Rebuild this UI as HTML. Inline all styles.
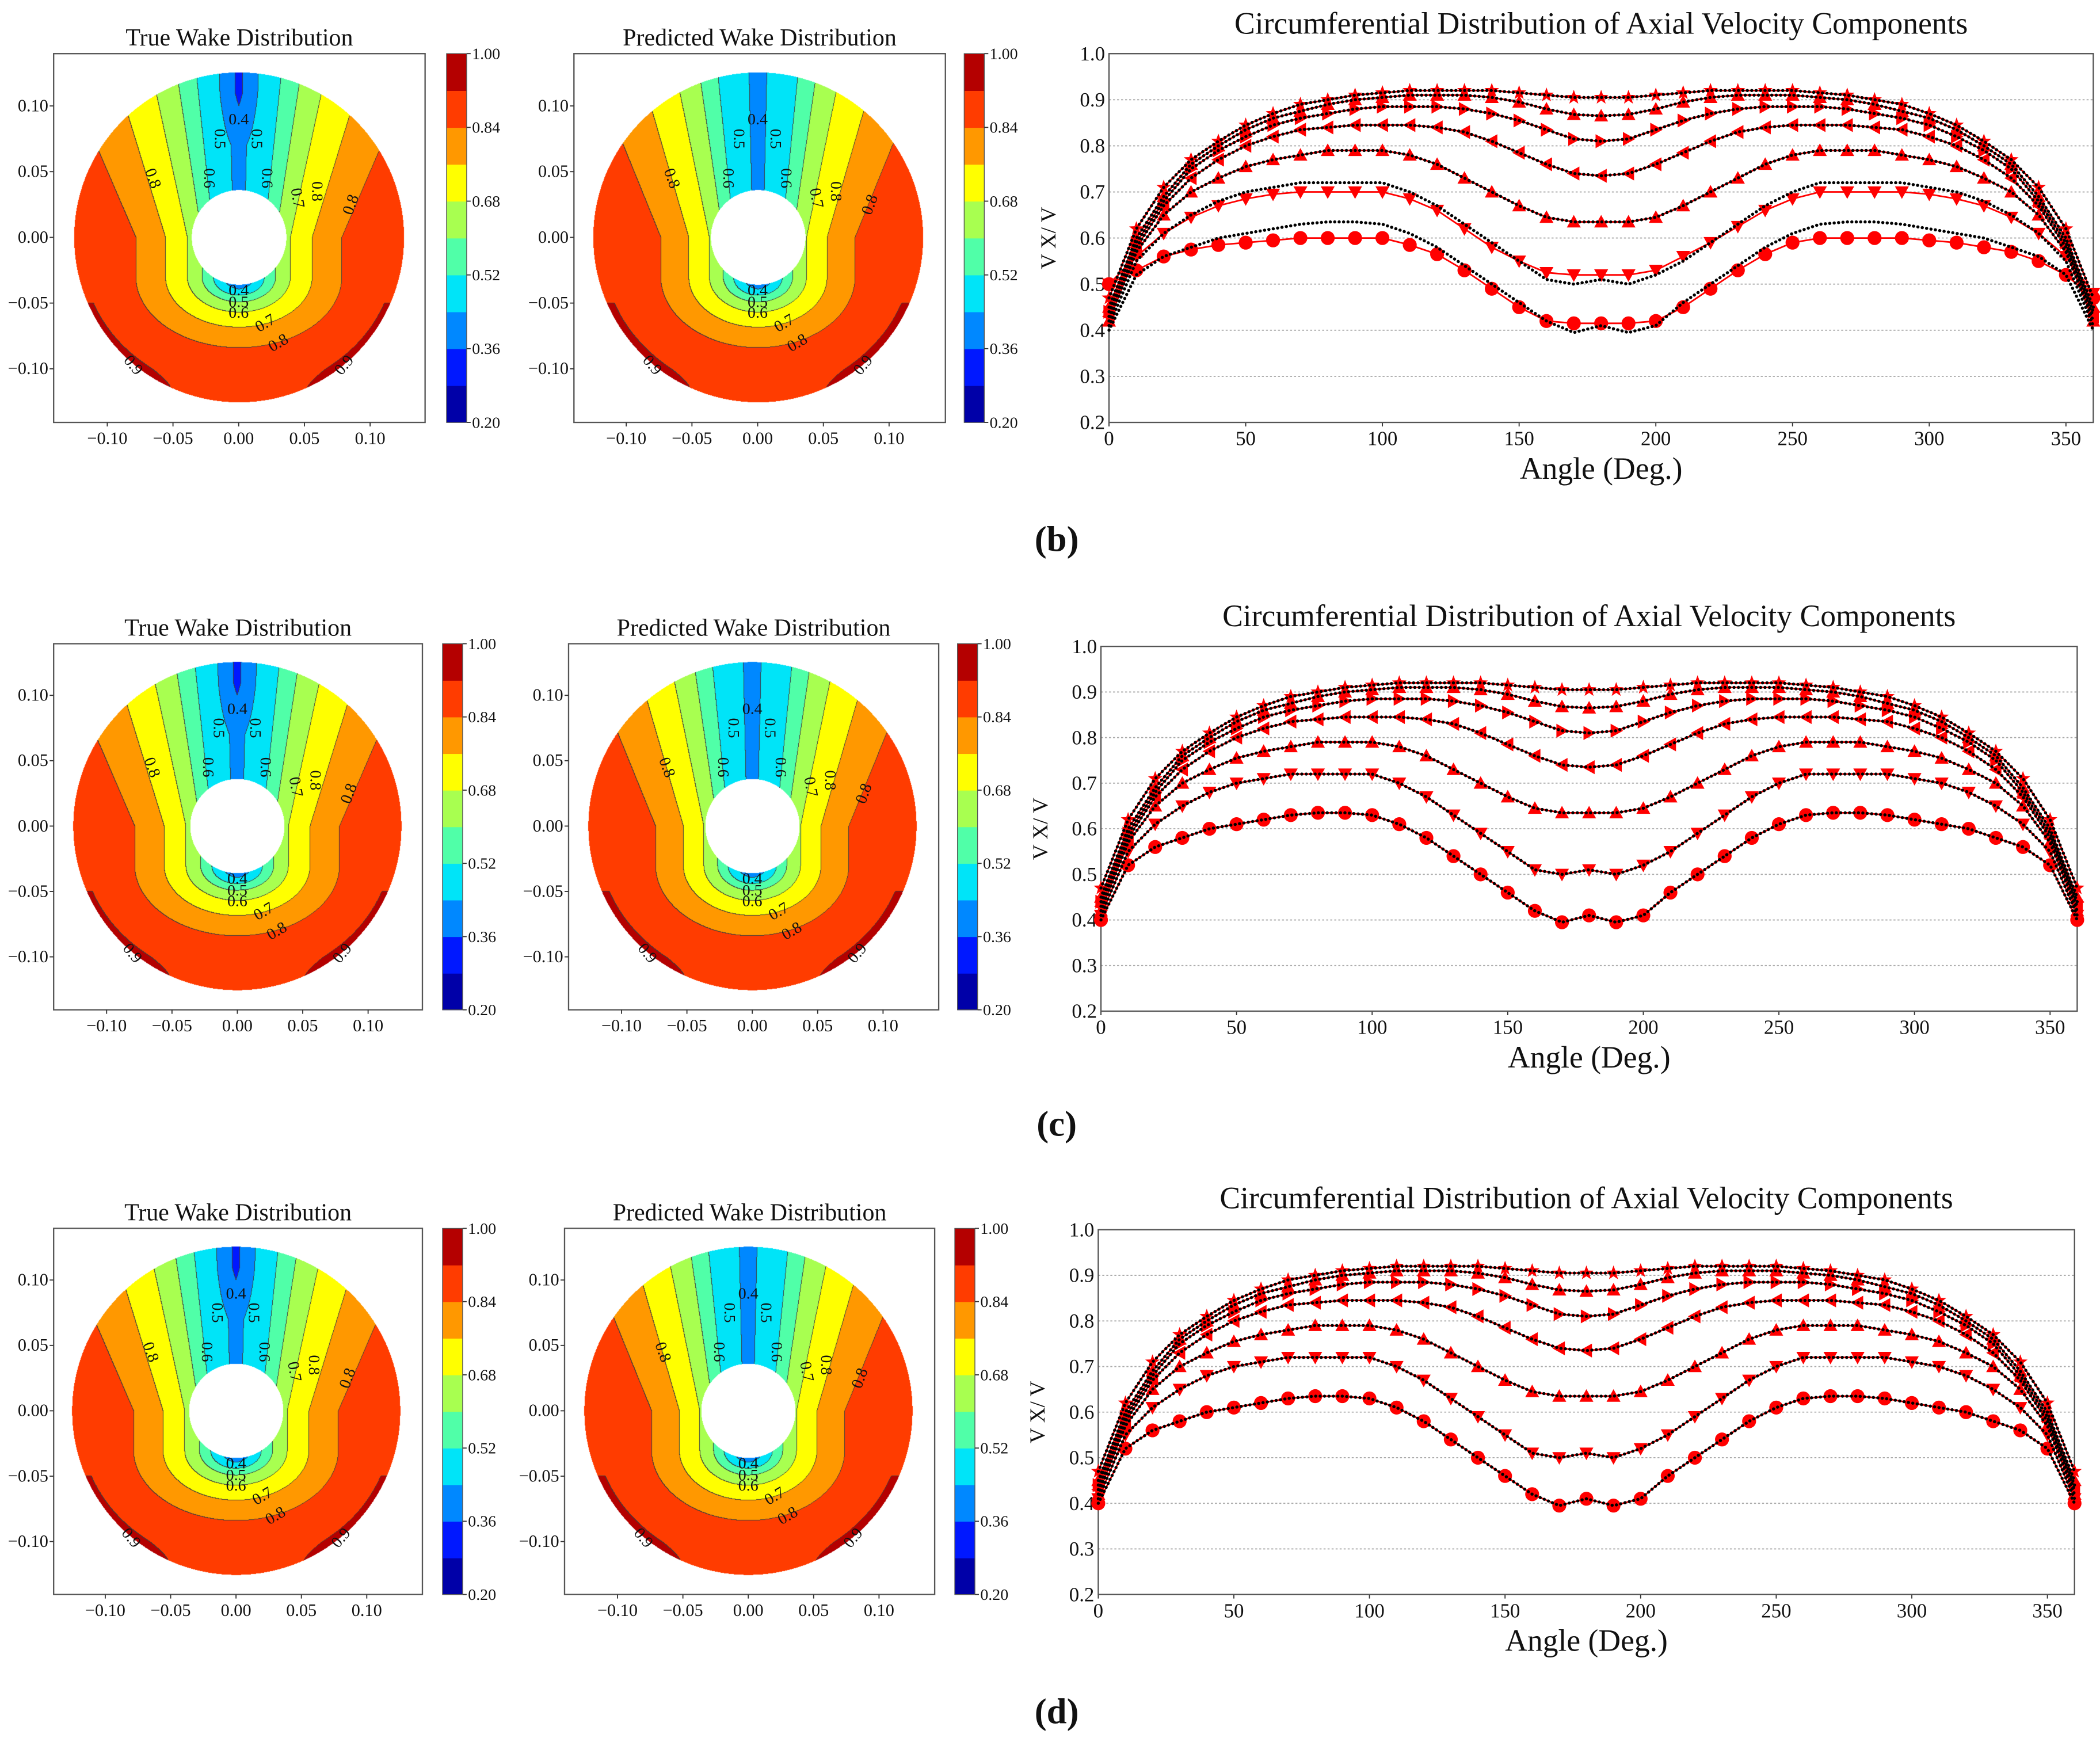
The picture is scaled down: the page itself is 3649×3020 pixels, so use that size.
<!DOCTYPE html>
<html><head><meta charset="utf-8">
<style>
html,body{margin:0;padding:0;background:#fff;}
#wrap{position:relative;width:3649px;height:3020px;overflow:hidden;background:#fff;}
canvas{position:absolute;}
svg{position:absolute;left:0;top:0;}
text{font-family:"Liberation Serif",serif;fill:#111;}
</style></head>
<body>
<div id="wrap">
<svg id="svg" width="3649" height="3020" viewBox="0 0 1566 1296" preserveAspectRatio="none"></svg>
</div>
<script>
// ---- chart data (angles in degrees, values V_x/V) ----
const angles = [0,10,20,30,40,50,60,70,80,90,100,110,120,130,140,150,160,170,180,190,200,210,220,230,240,250,260,270,280,290,300,310,320,330,340,350,360];
const xTicks = [0,50,100,150,200,250,300,350];
const yTicks = [0.2,0.3,0.4,0.5,0.6,0.7,0.8,0.9,1.0];
const cbTicks = ["0.20","0.36","0.52","0.68","0.84","1.00"];
const true1 = [0.40,0.52,0.56,0.58,0.60,0.61,0.62,0.63,0.635,0.635,0.63,0.61,0.58,0.54,0.50,0.46,0.42,0.395,0.41,0.395,0.41,0.46,0.50,0.54,0.58,0.61,0.63,0.635,0.635,0.63,0.62,0.61,0.60,0.58,0.56,0.52,0.40];
const true2 = [0.41,0.55,0.61,0.65,0.68,0.70,0.71,0.72,0.72,0.72,0.72,0.70,0.67,0.63,0.59,0.55,0.51,0.50,0.51,0.50,0.52,0.55,0.59,0.63,0.67,0.70,0.72,0.72,0.72,0.72,0.71,0.70,0.68,0.65,0.61,0.55,0.41];
const true3 = [0.42,0.57,0.65,0.70,0.73,0.755,0.77,0.78,0.79,0.79,0.79,0.78,0.76,0.73,0.70,0.67,0.645,0.635,0.635,0.635,0.645,0.67,0.70,0.73,0.76,0.78,0.79,0.79,0.79,0.78,0.77,0.755,0.73,0.70,0.65,0.57,0.42];
const true4 = [0.43,0.58,0.67,0.73,0.77,0.80,0.82,0.835,0.84,0.845,0.845,0.845,0.84,0.83,0.81,0.785,0.76,0.74,0.735,0.74,0.76,0.785,0.81,0.83,0.84,0.845,0.845,0.845,0.84,0.835,0.82,0.80,0.77,0.73,0.67,0.58,0.43];
const true5 = [0.44,0.59,0.68,0.75,0.79,0.82,0.845,0.86,0.87,0.88,0.885,0.885,0.885,0.88,0.87,0.855,0.835,0.815,0.81,0.815,0.835,0.855,0.87,0.88,0.885,0.885,0.885,0.88,0.87,0.86,0.845,0.82,0.79,0.75,0.68,0.59,0.44];
const true6 = [0.45,0.60,0.69,0.76,0.80,0.835,0.86,0.875,0.89,0.90,0.905,0.91,0.91,0.91,0.905,0.895,0.88,0.868,0.865,0.868,0.88,0.895,0.905,0.91,0.91,0.91,0.905,0.90,0.89,0.875,0.86,0.835,0.80,0.76,0.69,0.60,0.45];
const true7 = [0.47,0.62,0.71,0.77,0.81,0.845,0.87,0.89,0.90,0.91,0.915,0.92,0.92,0.92,0.92,0.915,0.91,0.905,0.905,0.905,0.91,0.915,0.92,0.92,0.92,0.92,0.915,0.91,0.90,0.89,0.87,0.845,0.81,0.77,0.71,0.62,0.47];
const predB1 = [0.50,0.53,0.56,0.575,0.585,0.59,0.595,0.60,0.60,0.60,0.60,0.585,0.565,0.53,0.49,0.45,0.42,0.415,0.415,0.415,0.42,0.45,0.49,0.53,0.565,0.59,0.60,0.60,0.60,0.60,0.595,0.59,0.58,0.57,0.55,0.52,0.47];
const predB2 = [0.50,0.56,0.61,0.645,0.67,0.685,0.695,0.70,0.70,0.70,0.70,0.685,0.66,0.62,0.58,0.55,0.525,0.52,0.52,0.52,0.53,0.56,0.59,0.625,0.66,0.685,0.70,0.70,0.70,0.70,0.695,0.685,0.67,0.645,0.61,0.56,0.48];
const markerTypes = ["circle","down","up","left","right","up","star"];

const S = 3649/1566;
const NS = "http://www.w3.org/2000/svg";
const svg = document.getElementById('svg');
function el(tag, attrs, parent){const e=document.createElementNS(NS,tag);for(const k in attrs)e.setAttribute(k,attrs[k]);(parent||svg).appendChild(e);return e;}
function txt(x,y,s,size,anchor,parent,extra){const t=el('text',Object.assign({x:x,y:y,'font-size':size,'text-anchor':anchor||'middle'},extra||{}),parent);t.textContent=s;return t;}

const levelColors = ["#0000a8","#0018ff","#0088ff","#00e4f8","#50ffa8","#a8ff50","#ffff00","#ff9800","#ff3c00","#b40000"];
function levelOf(v){let i=Math.floor((v-0.2)/0.08);return Math.max(0,Math.min(9,i));}
function hex(c){return [parseInt(c.substr(1,2),16),parseInt(c.substr(3,2),16),parseInt(c.substr(5,2),16)];}
const rgb = levelColors.map(hex);

const dTab=[0,0.017,0.028,0.042,0.065,0.085,0.12,0.3];
const vTab=[0.42,0.5,0.6,0.7,0.8,0.86,0.905,0.91];
function interp(d){for(let i=1;i<dTab.length;i++){if(d<=dTab[i]){const t=(d-dTab[i-1])/(dTab[i]-dTab[i-1]);return vTab[i-1]+t*(vTab[i]-vTab[i-1]);}}return 0.91;}
function field(x,y,pred){
  const c=-0.03;
  const w = pred?1.06:1.0;
  const ax=Math.abs(x)*w/(1+5.5*Math.max(0,y));
  const dy=Math.max(0,c-y)*1.45;
  const d=Math.sqrt(ax*ax+dy*dy);
  let v = interp(d);
  if(y>0.07 && !pred) v -= 0.08*Math.min(1,(y-0.07)/0.04)*Math.max(0,1-Math.abs(x)/0.02);
  const r=Math.hypot(x,y);
  if(y<0 && r<0.046) v -= 0.07*Math.max(0,(0.046-r)/0.01)*Math.max(0,1-Math.abs(x)/0.02);
  if(r>0.117 && y<-0.05 && Math.abs(x)>0.045) v += 0.04*Math.min(1,(r-0.117)/0.008)*Math.min(1,(Math.abs(x)-0.045)/0.02);
  return v;
}

function drawDisk(cx,cy,scale,pred,name){
  const R=0.1255, Ri=0.036;
  const rpx=Math.ceil(R*scale*S)+2;
  const size=rpx*2;
  const cv=document.createElement('canvas');
  cv.width=size;cv.height=size;
  cv.style.left=(cx*S-rpx)+'px';cv.style.top=(cy*S-rpx)+'px';
  
  
  document.getElementById('wrap').insertBefore(cv,svg);
  const ctx=cv.getContext('2d');
  const img=ctx.createImageData(size,size);
  const lv=new Int8Array(size*size).fill(-1);
  const k=scale*S;
  for(let j=0;j<size;j++)for(let i=0;i<size;i++){
    const x=(i-rpx)/k, y=-(j-rpx)/k;
    const r=Math.hypot(x,y);
    if(r>R||r<Ri) continue;
    lv[j*size+i]=levelOf(field(x,y,pred));
  }
  for(let j=0;j<size;j++)for(let i=0;i<size;i++){
    const L=lv[j*size+i]; if(L<0) continue;
    let edge=false;
    if(i+1<size&&lv[j*size+i+1]>=0&&lv[j*size+i+1]!==L)edge=true;
    if(j+1<size&&lv[(j+1)*size+i]>=0&&lv[(j+1)*size+i]!==L)edge=true;
    const p=(j*size+i)*4;
    const c=edge?[60,60,60]:rgb[L];
    img.data[p]=c[0];img.data[p+1]=c[1];img.data[p+2]=c[2];img.data[p+3]=255;
  }
  ctx.putImageData(img,0,0);
}

function contourPanel(box,cx,cy,scale,cbX,title,pred,prefix){
  const g=el('g',{},svg);
  
  
  const [x0,y0,x1,y1]=box;
  const fr=el('rect',{x:x0,y:y0,width:x1-x0,height:y1-y0,fill:'none',stroke:'#555','stroke-width':1},g);
  
  
  const t=txt((x0+x1)/2,y0-6,title,18,'middle',g);
  
  
  [-0.10,-0.05,0,0.05,0.10].forEach(v=>{
    const X=cx+v*scale;
    el('line',{x1:X,x2:X,y1:y1,y2:y1+3,stroke:'#333','stroke-width':0.8},g);
    const tl=txt(X,y1+16,(v<0?'\u22120.':'0.')+Math.abs(v).toFixed(2).slice(2),13,'middle',g);
    
    
    const Y=cy-v*scale;
    el('line',{x1:x0-3,x2:x0,y1:Y,y2:Y,stroke:'#333','stroke-width':0.8},g);
    const yl=txt(x0-4,Y+4,(v<0?'\u22120.':'0.')+Math.abs(v).toFixed(2).slice(2),13,'end',g);
    
    
  });
  const cb=el('g',{},g);
  
  
  const h=(y1-y0)/10;
  for(let i=0;i<10;i++){
    el('rect',{x:cbX,y:y1-(i+1)*h,width:15,height:h+0.3,fill:levelColors[i]},cb);
  }
  el('rect',{x:cbX,y:y0,width:15,height:y1-y0,fill:'none',stroke:'#555','stroke-width':0.6},cb);
  cbTicks.forEach((s,i)=>{
    const Y=y1-i*2*h;
    el('line',{x1:cbX+15,x2:cbX+18,y1:Y,y2:Y,stroke:'#333','stroke-width':0.8},cb);
    const l=txt(cbX+19,Y+4,s,12,'start',cb);
    
    
  });
  const labs=[["0.4",0,0.09,0],["0.5",-0.014,0.075,90],["0.5",0.014,0.075,90],["0.8",-0.065,0.045,70],["0.8",0.085,0.025,-70],["0.6",-0.022,0.045,90],["0.6",0.022,0.045,90],["0.7",0.045,0.03,80],["0.8",0.06,0.035,90],["0.4",0,-0.04,0],["0.5",0,-0.049,0],["0.6",0,-0.057,0],["0.7",0.02,-0.065,-30],["0.8",0.03,-0.08,-30],["0.9",-0.08,-0.097,50],["0.9",0.08,-0.097,-50]];
  labs.forEach(l=>{
    const X=cx+l[1]*scale, Y=cy-l[2]*scale+4;
    const tt=txt(X,Y,l[0],12,'middle',g,{transform:`rotate(${l[3]} ${X} ${Y-4})`});
    
    
  });
}

function marker(type,x,y,g){
  const r=5.2;let e;
  if(type==='circle') e=el('circle',{cx:x,cy:y,r:r,fill:'#ff0000'},g);
  else{
    let pts;
    if(type==='down') pts=[[x-r,y-r*0.8],[x+r,y-r*0.8],[x,y+r]];
    else if(type==='up') pts=[[x-r,y+r*0.8],[x+r,y+r*0.8],[x,y-r]];
    else if(type==='left') pts=[[x+r*0.8,y-r],[x+r*0.8,y+r],[x-r,y]];
    else if(type==='right') pts=[[x-r*0.8,y-r],[x-r*0.8,y+r],[x+r,y]];
    else {pts=[];for(let i=0;i<10;i++){const a=-Math.PI/2+i*Math.PI/5;const rr=i%2?r*0.45:r*1.1;pts.push([x+rr*Math.cos(a),y+rr*Math.sin(a)]);}}
    e=el('polygon',{points:pts.map(p=>p.join(',')).join(' '),fill:'#ff0000'},g);
  }
  return e;
}

function lineChart(ax,title,titleY,trueSeries,predSeries,prefix,letter,letterY){
  const [x0,x360,xr,yTop,yBot]=ax;
  const sx=a=>x0+(a/360)*(x360-x0);
  const sy=v=>yBot-(v-0.2)/0.8*(yBot-yTop);
  const g=el('g',{},svg);
  
  
  yTicks.forEach(v=>{
    if(v>0.25&&v<0.95){
      const gl=el('line',{x1:x0,x2:xr,y1:sy(v),y2:sy(v),stroke:'#aaa','stroke-width':0.8,'stroke-dasharray':'1.5 1.5'},g);
      
      
    }
    const l=txt(x0-3,sy(v)+5,v.toFixed(1),15,'end',g);
    
    
  });
  xTicks.forEach(a=>{
    el('line',{x1:sx(a),x2:sx(a),y1:yBot,y2:yBot+3,stroke:'#333','stroke-width':0.8},g);
    const l=txt(sx(a),yBot+17,String(a),15,'middle',g);
    
    
  });
  const fr=el('rect',{x:x0,y:yTop,width:xr-x0,height:yBot-yTop,fill:'none',stroke:'#555','stroke-width':1},g);
  
  
  const tt=txt((x0+xr)/2,titleY,title,23,'middle',g);
  
  
  const xl=txt((x0+xr)/2,yBot+42,'Angle (Deg.)',23,'middle',g);
  
  
  const yl=txt(0,0,'V X/ V',16,'middle',g,{transform:`translate(${x0-40},${(yTop+yBot)/2}) rotate(-90)`});
  
  
  predSeries.forEach((s,k)=>{
    const pts=angles.map((a,i)=>sx(a)+','+sy(s[i])).join(' ');
    const pl=el('polyline',{points:pts,fill:'none',stroke:'#ff0000','stroke-width':1.2},g);
    
    
    angles.forEach((a,i)=>{
      const m=marker(markerTypes[k],sx(a),sy(s[i]),g);
      
      
    });
  });
  trueSeries.forEach((s,k)=>{
    const pts=angles.map((a,i)=>sx(a)+','+sy(s[i])).join(' ');
    const pl=el('polyline',{points:pts,fill:'none',stroke:'#000','stroke-width':2.3,'stroke-dasharray':'0.1 3.2','stroke-linecap':'round'},g);
    
    
  });
  const lt=txt(788,letterY,letter,27,'middle',svg,{'font-weight':'bold'});
  
  
}

const trueAll=[true1,true2,true3,true4,true5,true6,true7];
const predB=[predB1,predB2,true3,true4,true5,true6,true7];

drawDisk(178,177,980,false,'row-b-true-wake-contour');
drawDisk(565,177,980,true,'row-b-predicted-wake-contour');
contourPanel([40,40,317,315],178,177,980,333,'True Wake Distribution',false,'row-b-true');
contourPanel([428,40,705,315],565,177,980,719,'Predicted Wake Distribution',true,'row-b-pred');
lineChart([827,1561,1561,40,315],'Circumferential Distribution of Axial Velocity Components',25,trueAll,predB,'row-b','(b)',411);

drawDisk(177,616,975,false,'row-c-true-wake-contour');
drawDisk(561,616,975,true,'row-c-predicted-wake-contour');
contourPanel([40,480,315,753],177,616,975,330,'True Wake Distribution',false,'row-c-true');
contourPanel([424,480,700,753],561,616,975,714,'Predicted Wake Distribution',true,'row-c-pred');
lineChart([821,1549,1549,482,754],'Circumferential Distribution of Axial Velocity Components',467,trueAll,trueAll,'row-c','(c)',847);

drawDisk(176,1052,975,false,'row-d-true-wake-contour');
drawDisk(558,1052,975,true,'row-d-predicted-wake-contour');
contourPanel([40,916,315,1189],176,1052,975,330,'True Wake Distribution',false,'row-d-true');
contourPanel([421,916,697,1189],558,1052,975,712,'Predicted Wake Distribution',true,'row-d-pred');
lineChart([819,1547,1547,917,1189],'Circumferential Distribution of Axial Velocity Components',901,trueAll,trueAll,'row-d','(d)',1285);
</script>
</body></html>
